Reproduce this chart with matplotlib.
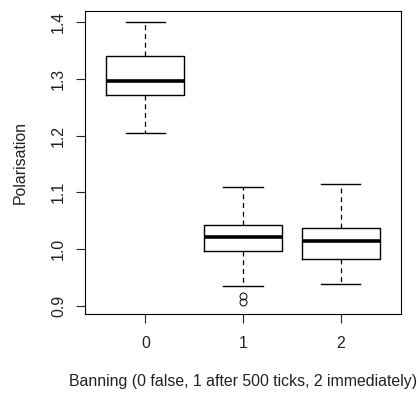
import matplotlib
matplotlib.use("Agg")
import matplotlib.pyplot as plt

plt.rcParams['font.family'] = ['Liberation Sans', 'DejaVu Sans']

# five-number summaries
groups   = ['0', '1', '2']
lower_wh = [1.205, 0.935, 0.938]
q1       = [1.272, 0.997, 0.982]
medians  = [1.297, 1.021, 1.014]
q3       = [1.341, 1.042, 1.037]
upper_wh = [1.400, 1.109, 1.114]
outliers = [[], [0.918, 0.907], []]

stats = []
for i in range(len(groups)):
    stats.append({'label': groups[i], 'whislo': lower_wh[i], 'q1': q1[i],
                  'med': medians[i], 'q3': q3[i], 'whishi': upper_wh[i],
                  'fliers': outliers[i]})

fig = plt.figure(figsize=(4.18, 3.93), dpi=100)
ax = fig.add_axes([85/418, 79/393, 316/418, 303/393])

ax.bxp(stats, positions=[1, 2, 3], widths=0.8,
       boxprops=dict(color='black', linewidth=1),
       medianprops=dict(color='black', linewidth=2.6, solid_capstyle='butt'),
       whiskerprops=dict(color='black', linewidth=0.9, linestyle=(0, (4, 3))),
       capprops=dict(color='black', linewidth=1),
       capwidths=0.4,
       flierprops=dict(marker='o', markerfacecolor='none', markeredgecolor='black',
                       markersize=5, markeredgewidth=0.7))

ax.set_xlim(0.38, 3.62)
ax.set_ylim(0.8854, 1.4198)
ax.set_yticks([0.9, 1.0, 1.1, 1.2, 1.3, 1.4])
ax.set_yticklabels(['0.9', '1.0', '1.1', '1.2', '1.3', '1.4'], rotation=90, va='center')
ax.set_xticks([1, 2, 3])
ax.set_xticklabels(groups)
ax.tick_params(length=6.5, width=0.8, labelsize=11.4, colors='#222222')
ax.tick_params(axis='y', pad=7)
ax.tick_params(axis='x', pad=9)
for s in ax.spines.values():
    s.set_linewidth(0.8)

ax.set_xlabel('Banning (0 false, 1 after 500 ticks, 2 immediately)', fontsize=11.4,
              labelpad=17, color='#222222')
ax.set_ylabel('Polarisation', fontsize=11.4, labelpad=17, color='#222222')

fig.savefig('out.png', dpi=100)
plt.close()
